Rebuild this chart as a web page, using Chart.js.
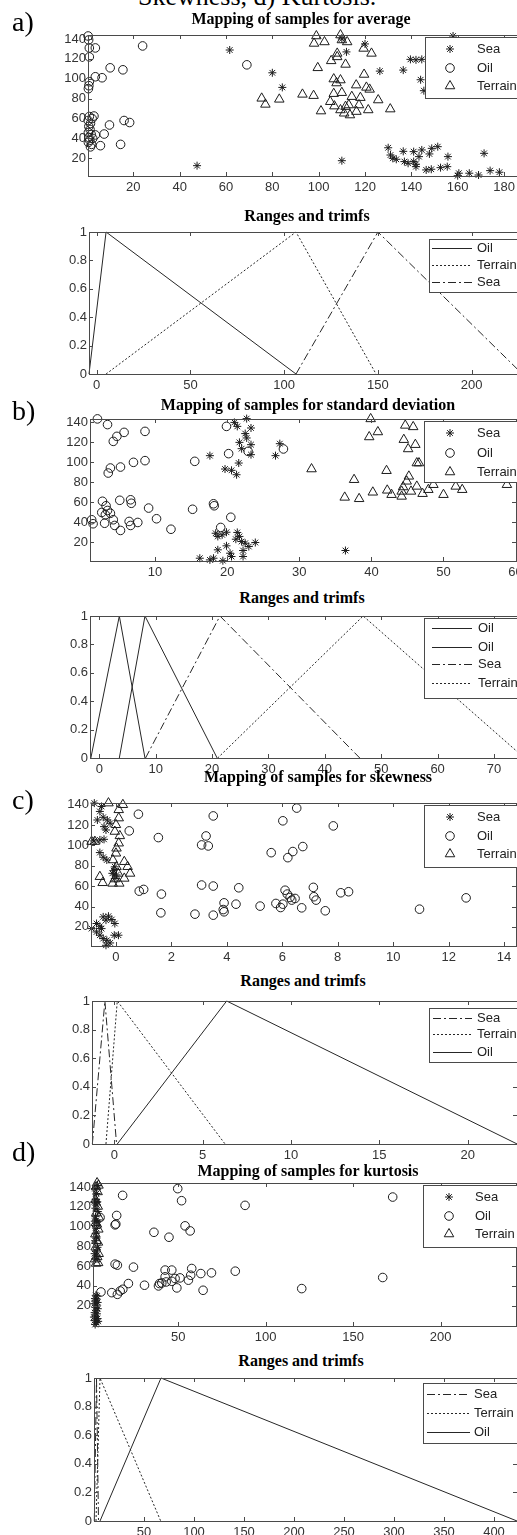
<!DOCTYPE html>
<html lang="en">
<head>
<meta charset="UTF-8">
<title>Mapping of samples, ranges and trimfs</title>
<style>
    html, body {
        margin: 0;
        padding: 0;
        background: #fff;
        overflow: hidden;
    }

    body {
        position: relative;
        width: 517px;
        height: 1535px;
    }

    canvas {
        position: absolute;
        left: 0;
    }

    .cap {
        position: absolute;
        font-family: "Liberation Serif", "Times New Roman", serif;
        color: #000;
        white-space: nowrap;
    }

    .big {
        font-size: 26px;
        line-height: 26px;
    }

    .part {
        font-size: 28px;
        line-height: 28px;
    }

    .title {
        font-size: 16px;
        line-height: 16px;
        font-weight: bold;
        width: 400px;
        text-align: center;
    }
</style>
</head>
<body>
<canvas id="avgScatter"></canvas>
<canvas id="avgTrimf"></canvas>
<canvas id="stdScatter"></canvas>
<canvas id="stdTrimf"></canvas>
<canvas id="skewScatter"></canvas>
<canvas id="skewTrimf"></canvas>
<canvas id="kurtScatter"></canvas>
<canvas id="kurtTrimf"></canvas>

<div class="cap big" style="left:138px; top:-16px;">Skewness, d) Kurtosis.</div>
<div class="cap part" style="left:12px; top:8px;">a)</div>
<div class="cap part" style="left:12px; top:397px;">b)</div>
<div class="cap part" style="left:12px; top:786px;">c)</div>
<div class="cap part" style="left:12px; top:1138px;">d)</div>

<div class="cap title" style="left:101px; top:11px;">Mapping of samples for average</div>
<div class="cap title" style="left:107px; top:208px;">Ranges and trimfs</div>
<div class="cap title" style="left:108px; top:397px;">Mapping of samples for standard deviation</div>
<div class="cap title" style="left:102px; top:590px;">Ranges and trimfs</div>
<div class="cap title" style="left:118px; top:769px;">Mapping of samples for skewness</div>
<div class="cap title" style="left:103px; top:973px;">Ranges and trimfs</div>
<div class="cap title" style="left:108px; top:1163px;">Mapping of samples for kurtosis</div>
<div class="cap title" style="left:101px; top:1353px;">Ranges and trimfs</div>

<script src="https://cdn.jsdelivr.net/npm/chart.js"></script>
<script>
    // ---------- data ----------
    const scatterYTicks = [20, 40, 60, 80, 100, 120, 140];
    const trimfYTicks = [0, 0.2, 0.4, 0.6, 0.8, 1];
    const trimfY = [0, 1, 0];   // a trimf goes 0 -> 1 -> 0

    // a) average
    const avgXTicks = [20, 40, 60, 80, 100, 120, 140, 160, 180];
    const avgSea = [[47.5, 12.6], [61.6, 128.9], [80, 106], [84.3, 91.3], [110, 17.6], [110, 140], [112, 127], [120, 135],
        [126.4, 107.7], [136.5, 108.7], [139.6, 119.5], [142, 119], [144.5, 119.5], [144, 99], [145.4, 88], [158, 143],
        [130, 30.6], [131, 23.3], [132, 20], [133.5, 19], [136.5, 27], [137, 16.7], [138.6, 15], [141, 26.7], [141, 16.7],
        [142, 14], [142, 11.6], [143.3, 21.7], [144.5, 28.4], [147.8, 24.4], [148.8, 30], [151.4, 31.7], [155.8, 21.7],
        [146.4, 8.3], [148.6, 9], [152.6, 10.6], [155.5, 11.6], [160, 2.5], [160.5, 5], [165, 5], [169, 3.2],
        [171.4, 25], [174, 7.6], [178, 6]];
    const avgOil = [[0.5, 143], [0.7, 139], [1, 131], [3.6, 131], [1, 122], [24, 133], [3.6, 102], [6.5, 101], [10, 111],
        [15.5, 109], [69, 114], [1, 97], [0.8, 93], [0.6, 90], [16, 58], [18.4, 56], [9.7, 53.5], [7.4, 44.4], [5.8, 32.7],
        [14.5, 34], [3.6, 43.5], [1, 62], [2.2, 60], [3, 62.5], [0.5, 58], [1.5, 55], [0.8, 52], [1.3, 49], [0.6, 46],
        [1.8, 44], [0.8, 41], [2.5, 40], [1.2, 38], [0.6, 36], [2, 34], [1.5, 31.5]];
    const avgTerrain = [[99, 143], [98, 135.5], [102.5, 137], [109.4, 144], [110, 139], [112.3, 137], [119.4, 130.5],
        [122.8, 125.5], [108, 125.5], [105.4, 118], [108, 122], [111.6, 114.4], [99.6, 111], [119.6, 104.3], [106.5, 99.7],
        [109.4, 98.7], [107.7, 95.7], [116.2, 93.6], [120.6, 91.3], [122, 89.3], [110, 86], [106.5, 85], [93, 84.3],
        [97.8, 83], [114.3, 82], [118, 81], [125.7, 78.6], [75.4, 80.3], [77, 74.2], [83, 79.3], [105, 76.9],
        [106.8, 72.5], [113, 73.6], [117.4, 73.6], [116.3, 67], [130.9, 69.5], [121.4, 68.6], [101, 67.5],
        [109.4, 68.6], [111, 65.3], [113.5, 63.5], [111.6, 72]];
    const avgTrimXTicks = [0, 50, 100, 150, 200];
    const avgOilTrimf = [-4.1, 5.0, 106.3];
    const avgTerrainTrimf = [5.0, 106.3, 149];
    const avgSeaTrimf = [106.3, 150, 227];

    // b) standard deviation
    const stdXTicks = [10, 20, 30, 40, 50, 60];
    const stdSea = [[21, 140], [22.7, 143.8], [21.4, 136], [23.3, 134.4], [22.5, 128.8], [21.7, 120], [22.7, 124.4],
        [22, 113.7], [23.3, 107.7], [23.3, 117.7], [17.6, 106.7], [19.7, 93.3], [20.6, 92], [21.3, 87.6], [21.6, 99.3],
        [26.7, 106.7], [27.3, 118.7], [18.4, 29], [18.7, 25.8], [19.3, 27.4], [19.9, 30], [21.4, 29.8], [21.7, 25.8],
        [21.2, 23], [22, 20.7], [22.5, 19], [23, 15.7], [23.9, 19.7], [18.7, 12.4], [19.9, 16.4], [20.4, 9], [20.6, 5.7],
        [22.2, 11.7], [22.2, 5.7], [16.2, 4], [17.6, 2.3], [18.1, 4], [19.4, 1.5], [36.4, 11.7]];
    const stdOil = [[2, 143.5], [3.4, 137.8], [4.2, 121], [4.7, 126], [5.7, 130], [8.6, 131], [3.5, 89.3], [3.8, 94.3],
        [5.2, 95.3], [7, 100], [8.6, 101.7], [15.5, 101], [19.9, 136], [20.2, 108.7], [22.9, 111], [27.8, 113.4],
        [2.7, 61], [3.2, 56.5], [3.4, 51.8], [2.6, 49.8], [3.1, 47.5], [3.8, 49], [3, 39], [4.2, 42.5], [4.4, 36.8],
        [5.2, 31.8], [5.1, 62], [6.6, 62.5], [6.7, 59], [6.6, 36.8], [6.4, 40.8], [7.6, 39.8], [9.1, 54.2], [10.2, 43.5],
        [12.2, 33], [15.2, 53], [18.1, 58.5], [18.2, 56.5], [19.1, 34.8], [20.5, 45], [1.2, 42.5], [1.4, 38.5]];
    const stdTerrain = [[39.9, 143.5], [39.7, 125.4], [40.9, 130.4], [44.7, 137], [45.8, 135.5], [44.5, 122.7],
        [45.1, 113.4], [46.1, 117.7], [46.3, 99.3], [46.6, 99.3], [31.7, 93.3], [42.1, 91.6], [45.2, 86], [37.6, 82.6],
        [44.9, 81], [36.3, 64.9], [38.3, 63.5], [40.2, 70], [42.2, 72], [42.8, 67.6], [44.2, 65.9], [44.2, 70.9],
        [44.4, 75.3], [45.5, 70.9], [46.3, 75.9], [47.1, 68.6], [47.9, 72.6], [48.6, 77.6], [50, 67.6], [51.7, 75.9],
        [52.6, 72.6], [58.8, 77.6]];
    const stdTrimXTicks = [0, 10, 20, 30, 40, 50, 60, 70];
    const stdOilTrimfA = [-1.5, 3.55, 8.1];
    const stdOilTrimfB = [3.55, 8.1, 20.9];
    const stdSeaTrimf = [8.2, 21.4, 46.2];
    const stdTerrainTrimf = [21, 46.8, 75.4];

    // c) skewness
    const skewXTicks = [0, 2, 4, 6, 8, 10, 12, 14];
    const skewSea = [[-0.78, 141.6], [-0.52, 138.3], [-0.58, 133.4], [-0.67, 125], [-0.46, 127.7], [-0.31, 125],
        [-0.21, 121.8], [-0.43, 118.5], [-0.36, 115.2], [-0.79, 104.4], [-0.58, 105.4], [-0.43, 106], [-0.58, 93],
        [-0.46, 88.4], [-0.33, 85.7], [-0.04, 79], [-0.08, 75.2], [0.02, 71], [-0.04, 67.6], [-0.13, 72.6],
        [-0.88, 18.3], [-0.7, 15], [-0.58, 20.6], [-0.46, 29.8], [-0.36, 26.6], [-0.27, 30.5], [-0.15, 27.2],
        [-0.04, 23.3], [-0.58, 11.8], [-0.46, 8.5], [-0.33, 6.8], [-0.21, 4.2], [-0.06, 11.8], [0.09, 11.8],
        [-0.36, 1.9], [-0.7, 23.3], [-0.52, 18.3]];
    const skewOil = [[0.81, 130.7], [0.48, 114.3], [3.51, 129], [3.25, 109.3], [3.09, 100.5], [3.33, 99.5],
        [1.53, 107.7], [6.52, 136.7], [6.02, 124.2], [7.84, 119.2], [5.6, 92.9], [6.2, 88], [6.38, 94], [6.74, 98.9],
        [0.84, 55.1], [1.0, 56.8], [1.64, 52.2], [3.09, 61.1], [3.51, 60.1], [4.43, 58.4], [1.62, 33.8], [2.85, 32.5],
        [3.51, 31.5], [3.87, 37], [3.9, 43.6], [3.9, 34.8], [4.33, 42.3], [5.2, 40.4], [5.77, 43], [5.94, 39],
        [6.02, 42.3], [6.1, 56], [6.18, 52.2], [6.28, 48.9], [6.34, 46.3], [6.46, 47.9], [6.7, 38.7], [7.12, 58.8],
        [7.14, 49.6], [7.22, 46.3], [7.55, 35.8], [8.11, 53.5], [8.39, 54.5], [10.95, 37.4], [12.63, 48.5]];
    const skewTerrain = [[-0.27, 141.6], [0.25, 140], [0.1, 135], [0.1, 126.9], [0, 120.3], [-0.04, 113.7],
        [0.14, 109.4], [0.1, 102.2], [0.02, 97.2], [0, 92.3], [-0.11, 85.7], [0.3, 84], [0.42, 79.1], [0.51, 72.5],
        [0.02, 79], [0.08, 72.5], [-0.04, 67], [0.3, 67.6], [-0.58, 69.3], [-0.48, 63.3], [-0.88, 103.8],
        [-0.76, 103.8], [-0.12, 62.7], [0.12, 62.7]];
    const skewTrimXTicks = [0, 5, 10, 15, 20];
    const skewSeaTrimf = [-1.24, -0.53, 0.13];
    const skewTerrainTrimf = [-0.47, 0.17, 6.27];
    const skewOilTrimf = [0.17, 6.36, 22.8];

    // d) kurtosis
    const kurtXTicks = [50, 100, 150, 200];
    const kurtSea = [[2.5, 1], [3.2, 3], [2.1, 5], [3.8, 7], [2.8, 9], [3.5, 11.8], [2.2, 13], [3, 15], [4, 17],
        [2.6, 18.3], [3.4, 20.6], [2, 22], [3.9, 23.3], [2.7, 25], [3.3, 26.6], [2.4, 27.2], [3.6, 29.8], [2.9, 30.5],
        [4.2, 4.2], [1.8, 8.5], [2.6, 67.6], [3.4, 71], [2.2, 72.6], [3.1, 75.2], [3.8, 79], [2.5, 85.7], [3.3, 88.4],
        [2.8, 93], [3.2, 98], [3.6, 104.4], [2.3, 105.4], [3.1, 106], [2.7, 110], [4, 115.2], [2.6, 118.5],
        [3.5, 121.8], [2.1, 125], [3.7, 125], [2.9, 127.7], [3.3, 133.4], [2.4, 138.3], [3.8, 141.6]];
    const kurtOil = [[18.2, 131.5], [14.8, 111.2], [13.9, 101.7], [14.3, 102.5], [5.3, 109.2], [49.7, 138.3],
        [51.9, 126.1], [88.2, 121.4], [172.6, 129.8], [36.1, 94.2], [44.7, 89.2], [53.9, 100.7], [56.8, 95.6],
        [13.9, 62], [15.2, 61], [24.4, 59], [12, 33.2], [15.2, 31.5], [16.8, 34.9], [18.3, 36.6], [21.5, 42.4],
        [30.7, 40.7], [38.7, 40], [40.6, 43], [42.5, 49.2], [42.5, 56], [46.3, 56], [43.1, 44], [46.3, 44.7],
        [48.2, 47.5], [49.2, 38], [51, 48.1], [55.8, 45.8], [57.7, 57.6], [57.1, 50.8], [62.9, 52.5], [64.2, 35.6],
        [69, 53.2], [82.6, 54.9], [120.6, 37.3], [166.9, 48.5], [5.8, 33.9], [39.3, 42.4]];
    const kurtTerrain = [[3, 62.7], [4.2, 63.3], [2.4, 67], [3.7, 69.3], [4.5, 72.5], [2.8, 79.1], [4.1, 84],
        [3.2, 85.7], [2.6, 92.3], [4.3, 97.2], [3.5, 102.2], [2.9, 103.8], [4.6, 109.4], [3.1, 113.7], [4, 120.3],
        [2.7, 126.9], [3.9, 135], [3, 140], [4.4, 141.6], [3.6, 144]];
    const kurtTrimXTicks = [50, 100, 150, 200, 250, 300, 350, 400];
    const kurtSeaTrimf = [0.3, 2.5, 4.5];
    const kurtTerrainTrimf = [2, 6, 66.7];
    const kurtOilTrimf = [6, 67, 423];

    // ---------- styling ----------
    const ink = '#1c1c1c';
    const axisColor = '#4a4a4a';
    const tickColor = '#333';
    const tickFont = {family: '"Liberation Sans", Arial, sans-serif', size: 13};
    const SOLID = [];
    const DOTTED = [2, 2];
    const DASHDOT = [8, 3, 2, 3];

    const pts = arr => arr.map(p => ({x: p[0], y: p[1]}));
    const tri = xs => xs.map((x, i) => ({x: x, y: trimfY[i]}));

    function markerSet(label, data, style, r) {
        return {
            label: label, data: pts(data), pointStyle: style, pointRadius: r, pointHoverRadius: r,
            borderColor: ink, backgroundColor: 'rgba(0,0,0,0)', borderWidth: 1, pointBorderWidth: 1, clip: false
        };
    }

    function lineSet(label, xs, dash) {
        return {
            label: label, data: tri(xs), showLine: true, pointRadius: 0, borderColor: '#262626',
            backgroundColor: 'rgba(0,0,0,0)', borderWidth: 1, borderDash: dash, tension: 0, clip: false
        };
    }

    const sea = d => markerSet('Sea', d, 'star', 4);
    const oil = d => markerSet('Oil', d, 'circle', 4.3);
    const terrain = d => markerSet('Terrain', d, 'triangle', 5.5);

    // box round the axes with inward tick marks on all four sides, like MATLAB
    const matlabBox = {
        id: 'matlabBox',
        afterDatasetsDraw(chart) {
            const {ctx, chartArea: a, scales} = chart;
            ctx.save();
            ctx.strokeStyle = axisColor;
            ctx.lineWidth = 1;
            ctx.setLineDash([]);
            ctx.strokeRect(Math.round(a.left) + 0.5, Math.round(a.top) + 0.5,
                Math.round(a.right - a.left), Math.round(a.bottom - a.top));
            ctx.beginPath();
            scales.x.ticks.forEach(t => {
                const px = Math.round(scales.x.getPixelForValue(t.value)) + 0.5;
                ctx.moveTo(px, a.bottom); ctx.lineTo(px, a.bottom - 4);
                ctx.moveTo(px, a.top); ctx.lineTo(px, a.top + 4);
            });
            scales.y.ticks.forEach(t => {
                const py = Math.round(scales.y.getPixelForValue(t.value)) + 0.5;
                ctx.moveTo(a.left, py); ctx.lineTo(a.left + 4, py);
                ctx.moveTo(a.right, py); ctx.lineTo(a.right - 4, py);
            });
            ctx.stroke();
            ctx.restore();
        }
    };

    // legend box placed inside the axes, top right
    const matlabLegend = {
        id: 'matlabLegend',
        afterDraw(chart, args, o) {
            const ctx = chart.ctx;
            const y0 = o.top0;
            ctx.save();
            ctx.fillStyle = '#fff';
            ctx.fillRect(o.left, o.top - y0, 700, o.bottom - o.top);
            ctx.strokeStyle = axisColor;
            ctx.lineWidth = 1;
            ctx.strokeRect(o.left + 0.5, o.top - y0 + 0.5, 700, o.bottom - o.top);
            chart.data.datasets.forEach((ds, i) => {
                const y = o.rows[i] - y0;
                ctx.strokeStyle = ds.borderColor;
                ctx.fillStyle = 'rgba(0,0,0,0)';
                if (ds.showLine) {
                    ctx.setLineDash(ds.borderDash);
                    ctx.beginPath();
                    ctx.moveTo(o.lineX0, y + 0.5);
                    ctx.lineTo(o.lineX1, y + 0.5);
                    ctx.stroke();
                    ctx.setLineDash([]);
                } else {
                    Chart.helpers.drawPoint(ctx, {pointStyle: ds.pointStyle, radius: ds.pointRadius, borderWidth: 1, rotation: 0}, o.markX, y);
                }
                ctx.fillStyle = '#222';
                ctx.font = '13px "Liberation Sans", Arial, sans-serif';
                ctx.textBaseline = 'middle';
                ctx.fillText(ds.label, o.textX, y);
            });
            ctx.restore();
        }
    };

    function build(id, g, xr, yr, xTicks, yTicks, datasets, legend) {
        const cv = document.getElementById(id);
        const W = 560, padTop = 8, axisH = 26;
        cv.width = W;
        cv.height = g.B - g.T + padTop + axisH;
        cv.style.top = (g.T - padTop) + 'px';
        legend.top0 = g.T - padTop;
        return new Chart(cv, {
            type: 'scatter',
            data: {datasets: datasets},
            options: {
                responsive: false,
                animation: false,
                events: [],
                layout: {padding: {top: padTop, right: W - g.R, left: 0, bottom: 0}},
                plugins: {
                    legend: {display: false},
                    tooltip: {enabled: false},
                    matlabLegend: legend
                },
                scales: {
                    x: {
                        type: 'linear', min: xr[0], max: xr[1],
                        grid: {display: false, drawTicks: false},
                        border: {display: false},
                        ticks: {autoSkip: false, maxRotation: 0, padding: 4, color: tickColor, font: tickFont,
                            callback: v => String(v)},
                        afterBuildTicks: s => { s.ticks = xTicks.map(v => ({value: v})); },
                        afterFit: s => { s.height = axisH; s.paddingLeft = 0; s.paddingRight = 0; }
                    },
                    y: {
                        type: 'linear', min: yr[0], max: yr[1],
                        grid: {display: false, drawTicks: false},
                        border: {display: false},
                        ticks: {autoSkip: false, padding: 2, color: tickColor, font: tickFont,
                            callback: v => String(v)},
                        afterBuildTicks: s => { s.ticks = yTicks.map(v => ({value: v})); },
                        afterFit: s => { s.width = g.L; s.paddingTop = 0; s.paddingBottom = 0; }
                    }
                }
            },
            plugins: [matlabBox, matlabLegend]
        });
    }

    // a)
    build('avgScatter', {L: 88, T: 35, R: 539, B: 176}, [0.43, 195.1], [2.2, 144], avgXTicks, scatterYTicks,
        [sea(avgSea), oil(avgOil), terrain(avgTerrain)],
        {left: 425, top: 37, bottom: 98, rows: [49, 68, 86], markX: 450, textX: 477});
    build('avgTrimf', {L: 89, T: 232, R: 524, B: 374}, [-4.1, 227.9], [0, 1], avgTrimXTicks, trimfYTicks,
        [lineSet('Oil', avgOilTrimf, SOLID), lineSet('Terrain', avgTerrainTrimf, DOTTED), lineSet('Sea', avgSeaTrimf, DASHDOT)],
        {left: 429, top: 239, bottom: 292, rows: [248, 265, 282], lineX0: 432, lineX1: 472, textX: 477});

    // b)
    build('stdScatter', {L: 90, T: 419, R: 516, B: 561}, [0.97, 60.06], [1.2, 143.4], stdXTicks, scatterYTicks,
        [sea(stdSea), oil(stdOil), terrain(stdTerrain)],
        {left: 424, top: 421, bottom: 482, rows: [433, 453, 472], markX: 450, textX: 477});
    build('stdTrimf', {L: 90, T: 616, R: 525, B: 758}, [-1.65, 75.5], [0, 1], stdTrimXTicks, trimfYTicks,
        [lineSet('Oil', stdOilTrimfA, SOLID), lineSet('Oil', stdOilTrimfB, SOLID), lineSet('Sea', stdSeaTrimf, DASHDOT),
            lineSet('Terrain', stdTerrainTrimf, DOTTED)],
        {left: 424, top: 618, bottom: 698, rows: [628, 647, 664, 683], lineX0: 432, lineX1: 472, textX: 478});

    // c)
    build('skewScatter', {L: 91, T: 803, R: 516, B: 946}, [-0.9, 14.43], [1.2, 141.7], skewXTicks, scatterYTicks,
        [sea(skewSea), oil(skewOil), terrain(skewTerrain)],
        {left: 424, top: 805, bottom: 867, rows: [817, 836, 854], markX: 450, textX: 477});
    build('skewTrimf', {L: 92, T: 1001, R: 517, B: 1144}, [-1.26, 22.79], [0, 1], skewTrimXTicks, trimfYTicks,
        [lineSet('Sea', skewSeaTrimf, DASHDOT), lineSet('Terrain', skewTerrainTrimf, DOTTED), lineSet('Oil', skewOilTrimf, SOLID)],
        {left: 429, top: 1008, bottom: 1062, rows: [1018, 1034, 1052], lineX0: 433, lineX1: 472, textX: 477});

    // d)
    build('kurtScatter', {L: 93, T: 1183, R: 516, B: 1326}, [1.26, 243.1], [-0.5, 144], kurtXTicks, scatterYTicks,
        [sea(kurtSea), oil(kurtOil), terrain(kurtTerrain)],
        {left: 423, top: 1185, bottom: 1247, rows: [1197, 1216, 1234], markX: 449, textX: 475});
    build('kurtTrimf', {L: 94, T: 1378, R: 517, B: 1521}, [0, 423], [0, 1], kurtTrimXTicks, trimfYTicks,
        [lineSet('Sea', kurtSeaTrimf, DASHDOT), lineSet('Terrain', kurtTerrainTrimf, DOTTED), lineSet('Oil', kurtOilTrimf, SOLID)],
        {left: 423, top: 1383, bottom: 1443, rows: [1394, 1413, 1432], lineX0: 427, lineX1: 470, textX: 474});
</script>
</body>
</html>
